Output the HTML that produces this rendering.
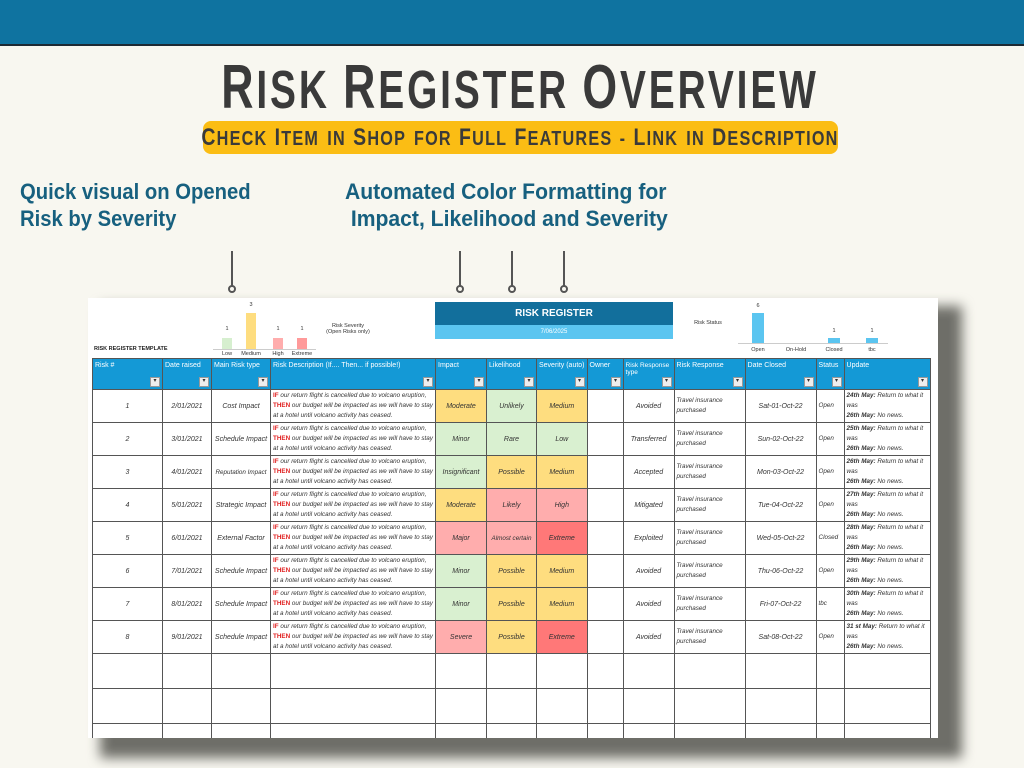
<!DOCTYPE html>
<html><head><meta charset="utf-8"><style>
*{margin:0;padding:0;box-sizing:border-box}
body{width:1024px;height:768px;background:#f8f7f0;position:relative;overflow:hidden;font-family:"Liberation Sans",sans-serif}
.abs{position:absolute}
.top{left:0;top:0;width:1024px;height:46px;background:#0f73a0;border-bottom:2px solid #1d2a33}
.tw{left:520px;top:56px;white-space:nowrap;transform:translateX(-50%) scaleX(0.72);font-weight:bold;color:#3a3a3a;line-height:64px;letter-spacing:4px;word-spacing:10px;text-transform:uppercase}
.tw .b{font-size:62px}.tw .s{font-size:54px}
.pill{left:203px;top:121px;width:635px;height:33px;background:#fbbd14;border-radius:8px}
.pw{left:520px;top:121px;white-space:nowrap;transform:translateX(-50%) scaleX(0.81);font-weight:bold;color:#3a3a3a;line-height:34px;letter-spacing:1.5px;word-spacing:3px;text-transform:uppercase}
.pw .b{font-size:24px}.pw .s{font-size:20px}
.note{color:#17607f;font-weight:bold;font-size:22px;line-height:27px;white-space:nowrap;transform-origin:0 0}
.stick{width:2px;background:#555}
.dot{width:8px;height:8px;border:2px solid #555;border-radius:50%;background:#f8f7f0}
.shadow{left:100px;top:306px;width:862px;height:452px;background:#6e6e68;filter:blur(6px)}
.sheet{left:88px;top:298px;width:850px;height:440px;background:#fff;overflow:hidden}
table{position:absolute;left:4px;top:60px;border-collapse:collapse;table-layout:fixed;font-size:7px;color:#333}
td,th{border:1px solid #555;overflow:hidden}
th{background:#1499d6;color:#fff;text-align:left;vertical-align:top;font-weight:normal;font-size:7px;height:31px;padding:3px 2px;position:relative;white-space:nowrap}
th:after{content:"▾";position:absolute;right:2px;bottom:2px;width:8px;height:8px;background:#eee;color:#333;border:1px solid #999;font-size:6px;line-height:7px;text-align:center}
td{height:33px;font-style:italic;text-align:center;padding:1px 2px;white-space:nowrap}
tr.e td{height:35px}
td.d,td.u{text-align:left;line-height:10px;font-size:6.3px;white-space:normal}
.r{color:#e02020;font-weight:bold;font-style:normal}
.g{background:#d9f0d0}.y{background:#fedd7f}.p{background:#ffadad}.x{background:#ff7878}
.bar{position:absolute}
.lbl{position:absolute;font-size:5.5px;color:#333;text-align:center;width:30px}
</style></head><body>
<div class="abs top"></div>
<div class="abs tw"><span class="b">R</span><span class="s">isk</span> <span class="b">R</span><span class="s">egister</span> <span class="b">O</span><span class="s">verview</span></div>
<div class="abs pill"></div>
<div class="abs pw"><span class="b">C</span><span class="s">heck</span> <span class="b">I</span><span class="s">tem in</span> <span class="b">S</span><span class="s">hop for</span> <span class="b">F</span><span class="s">ull</span> <span class="b">F</span><span class="s">eatures</span> <span class="s">-</span> <span class="b">L</span><span class="s">ink in</span> <span class="b">D</span><span class="s">escription</span></div>
<div class="abs note" style="left:20px;top:178px;transform:scaleX(0.92)">Quick visual on Opened<br>Risk by Severity</div>
<div class="abs note" style="left:345px;top:178px;transform:scaleX(0.96)">Automated Color Formatting for<br>&nbsp;Impact, Likelihood and Severity</div>
<div class="abs stick" style="left:231px;top:251px;height:35px"></div><div class="abs dot" style="left:228px;top:285px"></div>
<div class="abs stick" style="left:459px;top:251px;height:35px"></div><div class="abs dot" style="left:456px;top:285px"></div>
<div class="abs stick" style="left:511px;top:251px;height:35px"></div><div class="abs dot" style="left:508px;top:285px"></div>
<div class="abs stick" style="left:563px;top:251px;height:35px"></div><div class="abs dot" style="left:560px;top:285px"></div>
<div class="abs shadow"></div>
<div class="abs sheet">
<div class="abs" style="left:6px;top:48px;font-size:5.5px;font-weight:bold;color:#222">RISK REGISTER TEMPLATE</div>
<div class="abs" style="left:125px;top:51px;width:103px;height:1px;background:#ccc"></div>
<div class="bar" style="left:134px;top:40px;width:10px;height:11px;background:#d6efcf"></div>
<div class="bar" style="left:158px;top:15px;width:10px;height:36px;background:#fedd7f"></div>
<div class="bar" style="left:185px;top:40px;width:10px;height:11px;background:#ffadad"></div>
<div class="bar" style="left:209px;top:40px;width:10px;height:11px;background:#ff9a9a"></div>
<div class="lbl" style="left:124px;top:28px">1</div><div class="lbl" style="left:148px;top:4px">3</div><div class="lbl" style="left:175px;top:28px">1</div><div class="lbl" style="left:199px;top:28px">1</div>
<div class="lbl" style="left:124px;top:53px">Low</div><div class="lbl" style="left:148px;top:53px">Medium</div><div class="lbl" style="left:175px;top:53px">High</div><div class="lbl" style="left:199px;top:53px">Extreme</div>
<div class="lbl" style="left:230px;top:25px;width:60px;font-size:5.5px">Risk Severity<br>(Open Risks only)</div>
<div class="abs" style="left:347px;top:4px;width:238px;height:23px;background:#126f9c;color:#fff;font-weight:bold;font-size:10px;text-align:center;line-height:23px">RISK REGISTER</div>
<div class="abs" style="left:347px;top:27px;width:238px;height:14px;background:#5bc5f0;color:#fff;font-size:6px;text-align:center;line-height:14px">7/06/2025</div>
<div class="lbl" style="left:600px;top:22px;width:40px">Risk Status</div>
<div class="abs" style="left:650px;top:45px;width:150px;height:1px;background:#ccc"></div>
<div class="bar" style="left:664px;top:15px;width:12px;height:30px;background:#5bc5f0"></div>
<div class="bar" style="left:740px;top:40px;width:12px;height:5px;background:#5bc5f0"></div>
<div class="bar" style="left:778px;top:40px;width:12px;height:5px;background:#5bc5f0"></div>
<div class="lbl" style="left:655px;top:5px">6</div><div class="lbl" style="left:731px;top:30px">1</div><div class="lbl" style="left:769px;top:30px">1</div>
<div class="lbl" style="left:655px;top:49px">Open</div><div class="lbl" style="left:693px;top:49px">On-Hold</div><div class="lbl" style="left:731px;top:49px">Closed</div><div class="lbl" style="left:769px;top:49px">tbc</div>
<table>
<colgroup><col style="width:70px"><col style="width:49px"><col style="width:59px"><col style="width:165px"><col style="width:51px"><col style="width:50px"><col style="width:50px"><col style="width:36px"><col style="width:51px"><col style="width:71px"><col style="width:71px"><col style="width:28px"><col style="width:86px"></colgroup>
<tr><th>Risk #</th><th>Date raised</th><th>Main Risk type</th><th>Risk Description (If.... Then... if possible!)</th><th>Impact</th><th>Likelihood</th><th>Severity (auto)</th><th>Owner</th><th style="white-space:normal;font-size:6.5px">Risk Response type</th><th>Risk Response</th><th>Date Closed</th><th>Status</th><th>Update</th></tr>
<tr><td>1</td><td>2/01/2021</td><td>Cost Impact</td><td class="d"><span class="r">IF</span> our return flight is cancelled due to volcano eruption, <span class="r">THEN</span> our budget will be impacted as we will have to stay at a hotel until volcano activity has ceased.</td><td class="y">Moderate</td><td class="g">Unlikely</td><td class="y">Medium</td><td></td><td>Avoided</td><td class="u">Travel insurance purchased</td><td>Sat-01-Oct-22</td><td class="u">Open</td><td class="u"><b>24th May:</b> Return to what it was<br><b>26th May:</b> No news.</td></tr>
<tr><td>2</td><td>3/01/2021</td><td>Schedule Impact</td><td class="d"><span class="r">IF</span> our return flight is cancelled due to volcano eruption, <span class="r">THEN</span> our budget will be impacted as we will have to stay at a hotel until volcano activity has ceased.</td><td class="g">Minor</td><td class="g">Rare</td><td class="g">Low</td><td></td><td>Transferred</td><td class="u">Travel insurance purchased</td><td>Sun-02-Oct-22</td><td class="u">Open</td><td class="u"><b>25th May:</b> Return to what it was<br><b>26th May:</b> No news.</td></tr>
<tr><td>3</td><td>4/01/2021</td><td style="font-size:6.3px">Reputation Impact</td><td class="d"><span class="r">IF</span> our return flight is cancelled due to volcano eruption, <span class="r">THEN</span> our budget will be impacted as we will have to stay at a hotel until volcano activity has ceased.</td><td class="g">Insignificant</td><td class="y">Possible</td><td class="y">Medium</td><td></td><td>Accepted</td><td class="u">Travel insurance purchased</td><td>Mon-03-Oct-22</td><td class="u">Open</td><td class="u"><b>26th May:</b> Return to what it was<br><b>26th May:</b> No news.</td></tr>
<tr><td>4</td><td>5/01/2021</td><td>Strategic Impact</td><td class="d"><span class="r">IF</span> our return flight is cancelled due to volcano eruption, <span class="r">THEN</span> our budget will be impacted as we will have to stay at a hotel until volcano activity has ceased.</td><td class="y">Moderate</td><td class="p">Likely</td><td class="p">High</td><td></td><td>Mitigated</td><td class="u">Travel insurance purchased</td><td>Tue-04-Oct-22</td><td class="u">Open</td><td class="u"><b>27th May:</b> Return to what it was<br><b>26th May:</b> No news.</td></tr>
<tr><td>5</td><td>6/01/2021</td><td>External Factor</td><td class="d"><span class="r">IF</span> our return flight is cancelled due to volcano eruption, <span class="r">THEN</span> our budget will be impacted as we will have to stay at a hotel until volcano activity has ceased.</td><td class="p">Major</td><td class="p" style="font-size:6.3px">Almost certain</td><td class="x">Extreme</td><td></td><td>Exploited</td><td class="u">Travel insurance purchased</td><td>Wed-05-Oct-22</td><td class="u">Closed</td><td class="u"><b>28th May:</b> Return to what it was<br><b>26th May:</b> No news.</td></tr>
<tr><td>6</td><td>7/01/2021</td><td>Schedule Impact</td><td class="d"><span class="r">IF</span> our return flight is cancelled due to volcano eruption, <span class="r">THEN</span> our budget will be impacted as we will have to stay at a hotel until volcano activity has ceased.</td><td class="g">Minor</td><td class="y">Possible</td><td class="y">Medium</td><td></td><td>Avoided</td><td class="u">Travel insurance purchased</td><td>Thu-06-Oct-22</td><td class="u">Open</td><td class="u"><b>29th May:</b> Return to what it was<br><b>26th May:</b> No news.</td></tr>
<tr><td>7</td><td>8/01/2021</td><td>Schedule Impact</td><td class="d"><span class="r">IF</span> our return flight is cancelled due to volcano eruption, <span class="r">THEN</span> our budget will be impacted as we will have to stay at a hotel until volcano activity has ceased.</td><td class="g">Minor</td><td class="y">Possible</td><td class="y">Medium</td><td></td><td>Avoided</td><td class="u">Travel insurance purchased</td><td>Fri-07-Oct-22</td><td class="u">tbc</td><td class="u"><b>30th May:</b> Return to what it was<br><b>26th May:</b> No news.</td></tr>
<tr><td>8</td><td>9/01/2021</td><td>Schedule Impact</td><td class="d"><span class="r">IF</span> our return flight is cancelled due to volcano eruption, <span class="r">THEN</span> our budget will be impacted as we will have to stay at a hotel until volcano activity has ceased.</td><td class="p">Severe</td><td class="y">Possible</td><td class="x">Extreme</td><td></td><td>Avoided</td><td class="u">Travel insurance purchased</td><td>Sat-08-Oct-22</td><td class="u">Open</td><td class="u"><b>31 st May:</b> Return to what it was<br><b>26th May:</b> No news.</td></tr>
<tr class="e"><td></td><td></td><td></td><td></td><td></td><td></td><td></td><td></td><td></td><td></td><td></td><td></td><td></td></tr>
<tr class="e"><td></td><td></td><td></td><td></td><td></td><td></td><td></td><td></td><td></td><td></td><td></td><td></td><td></td></tr>
<tr class="e"><td></td><td></td><td></td><td></td><td></td><td></td><td></td><td></td><td></td><td></td><td></td><td></td><td></td></tr>
</table>
</div>
</body></html>
